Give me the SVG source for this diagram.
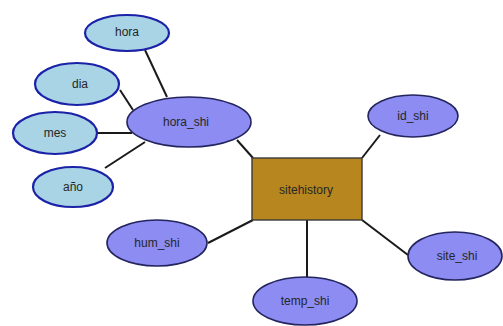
<svg xmlns="http://www.w3.org/2000/svg" width="503" height="326" viewBox="0 0 503 326">
<style>
.c{stroke:#1a1a1a;stroke-width:2;fill:none}
.a{fill:#a8d4e6;stroke:#1c22a8;stroke-width:2.2}
.k{fill:#8c8cf2;stroke:#24245e;stroke-width:1.6}
.e{fill:#b8861e;stroke:#3a3a3a;stroke-width:1.4}
text{font-family:"Liberation Sans",Arial,sans-serif;font-size:12px;fill:#262626;text-anchor:middle;dominant-baseline:central}
</style>
<rect width="503" height="326" fill="#ffffff"/>
<g id="connectors">
<line class="c" x1="145" y1="50" x2="167" y2="97"/>
<line class="c" x1="120" y1="90" x2="133" y2="110"/>
<line class="c" x1="97" y1="133" x2="132" y2="133"/>
<line class="c" x1="105" y1="168" x2="145" y2="142"/>
<line class="c" x1="237" y1="140" x2="253" y2="158"/>
<line class="c" x1="362" y1="158" x2="380" y2="135"/>
<line class="c" x1="362" y1="220" x2="408" y2="255"/>
<line class="c" x1="307" y1="220" x2="307" y2="277"/>
<line class="c" x1="253" y1="220" x2="208" y2="243"/>
</g>
<g id="hora"><ellipse class="a" cx="127" cy="33" rx="42" ry="18"/><text x="127" y="32">hora</text></g>
<g id="dia"><ellipse class="a" cx="77" cy="84" rx="42" ry="21"/><text x="80" y="84">dia</text></g>
<g id="mes"><ellipse class="a" cx="55" cy="133" rx="42" ry="21"/><text x="55" y="133">mes</text></g>
<g id="anio"><ellipse class="a" cx="73" cy="187" rx="40" ry="20"/><text x="73" y="187">año</text></g>
<g id="hora_shi"><ellipse class="k" cx="189" cy="122" rx="62" ry="25"/><text x="186" y="122">hora_shi</text></g>
<g id="sitehistory"><rect class="e" x="252" y="158" width="110" height="62"/><text x="306" y="190">sitehistory</text></g>
<g id="id_shi"><ellipse class="k" cx="413" cy="116" rx="45" ry="21"/><text x="413" y="116">id_shi</text></g>
<g id="site_shi"><ellipse class="k" cx="455" cy="256" rx="47" ry="24"/><text x="457" y="256">site_shi</text></g>
<g id="temp_shi"><ellipse class="k" cx="305" cy="301" rx="52" ry="24"/><text x="305" y="301">temp_shi</text></g>
<g id="hum_shi"><ellipse class="k" cx="157" cy="243" rx="50" ry="23"/><text x="157" y="243">hum_shi</text></g>
</svg>
